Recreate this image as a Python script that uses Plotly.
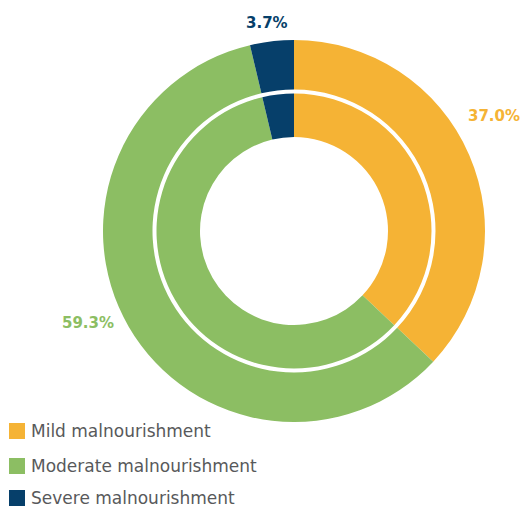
import plotly.graph_objects as go

# Malnourishment shares (%), shown on both rings
categories = ["Mild malnourishment", "Moderate malnourishment", "Severe malnourishment"]
shares = [37.0, 59.3, 3.7]
colors = ["#F5B335", "#8CBE63", "#063F6A"]

W, H = 523, 507


def px_x(x):
    return x / W


def px_y(y):
    return 1 - y / H


cx, cy = 294, 231
r_outer, r_outer_hole = 191, 141.5
r_inner, r_inner_hole = 137.5, 94

fig = go.Figure()

for r, hole in [(r_outer, r_outer_hole), (r_inner, r_inner_hole)]:
    fig.add_trace(go.Pie(
        labels=categories,
        values=shares,
        marker=dict(colors=colors, line=dict(width=0)),
        hole=hole / r,
        sort=False,
        direction="clockwise",
        rotation=0,
        textinfo="none",
        hoverinfo="label+percent",
        showlegend=False,
        domain=dict(x=[px_x(cx - r), px_x(cx + r)], y=[px_y(cy + r), px_y(cy - r)]),
    ))

# Value labels around the outer ring
label_pos = [(494, 116), (88, 323), (266.5, 22.5)]
for (lx, ly), v, c in zip(label_pos, shares, colors):
    fig.add_annotation(
        x=px_x(lx), y=px_y(ly), xref="paper", yref="paper",
        text=f"<b>{v:.1f}%</b>", showarrow=False,
        font=dict(family="DejaVu Sans", size=15, color=c),
        xanchor="center", yanchor="middle",
    )

# Legend: colour squares with category names
row_y = [431, 466, 498]
for name, c, ry in zip(categories, colors, row_y):
    fig.add_shape(
        type="rect", xref="paper", yref="paper",
        x0=px_x(9), x1=px_x(25), y0=px_y(ry + 8), y1=px_y(ry - 8),
        fillcolor=c, line=dict(width=0),
    )
    fig.add_annotation(
        x=px_x(29), y=px_y(ry), xref="paper", yref="paper",
        text=name, showarrow=False,
        font=dict(family="DejaVu Sans", size=17, color="#58595B"),
        xanchor="left", yanchor="middle",
    )

fig.update_layout(
    width=W, height=H,
    margin=dict(l=0, r=0, t=0, b=0),
    paper_bgcolor="white",
    plot_bgcolor="white",
)

fig.write_html("out.html")
